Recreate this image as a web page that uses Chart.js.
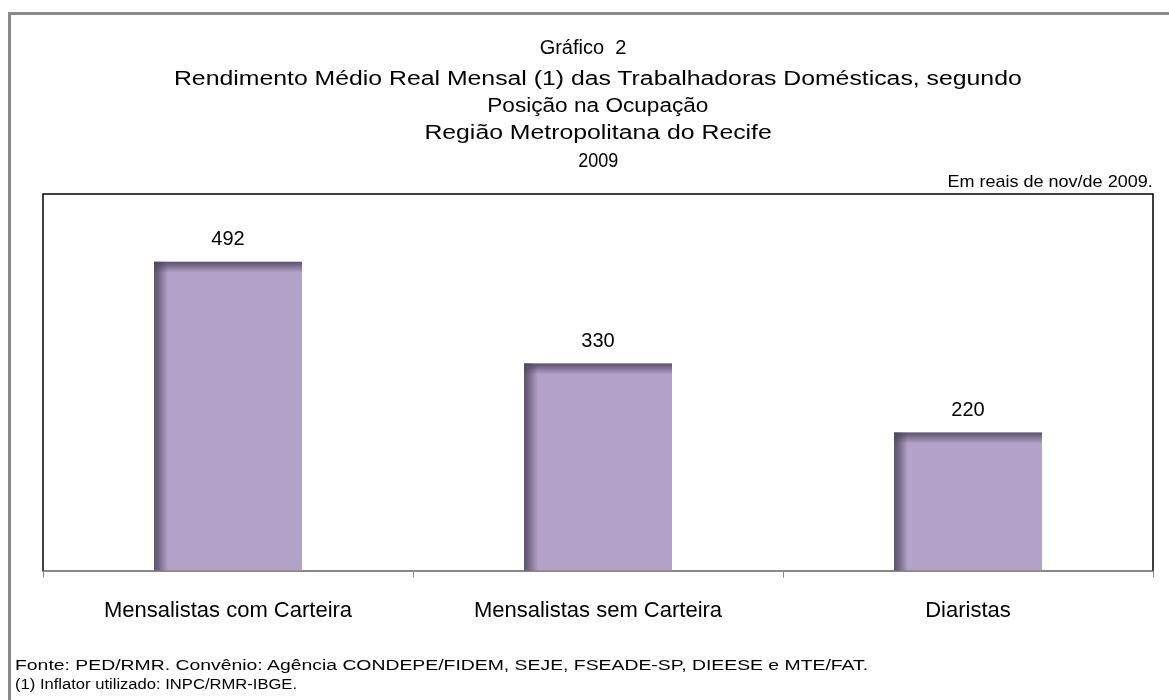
<!DOCTYPE html>
<html>
<head>
<meta charset="utf-8">
<script src="https://cdn.jsdelivr.net/npm/chart.js@4.4.1/dist/chart.umd.min.js"></script>
<style>
  html, body { margin: 0; padding: 0; background: #fff; }
  #wrap { position: relative; width: 1169px; height: 700px; overflow: hidden; font-family: "Liberation Sans", Arial, sans-serif; color: #000; }
  #frame { position: absolute; left: 8px; top: 12px; width: 1200px; height: 800px; border-left: 3px solid #888; border-top: 3px solid #888; }
  canvas { position: absolute; left: 0; top: 0; }
  .t { position: absolute; left: 43px; width: 1110px; text-align: center; font-size: 20px; white-space: nowrap; }
  .t span { display: inline-block; }
  #unit { position: absolute; right: 16px; top: 172px; font-size: 17px; white-space: nowrap; transform: scaleX(1.06); transform-origin: right center; }
  .foot { position: absolute; left: 15px; font-size: 15.5px; white-space: nowrap; transform-origin: left center; }
</style>
</head>
<body>
<div id="wrap">
  <div id="frame"></div>
  <canvas id="chart" width="1169" height="700"></canvas>
  <div class="t" style="top:36px; left:28px"><span>Gráfico&nbsp; 2</span></div>
  <div class="t" style="top:67px"><span style="transform:scaleX(1.24)">Rendimento Médio Real Mensal (1) das Trabalhadoras Domésticas, segundo</span></div>
  <div class="t" style="top:94px"><span style="transform:scaleX(1.13)">Posição na Ocupação</span></div>
  <div class="t" style="top:121px"><span style="transform:scaleX(1.24)">Região Metropolitana do Recife</span></div>
  <div class="t" style="top:149px"><span style="transform:scaleX(0.9)">2009</span></div>
  <div id="unit">Em reais de nov/de 2009.</div>
  <div class="foot" style="top:656px; transform:scaleX(1.25)">Fonte: PED/RMR. Convênio: Agência CONDEPE/FIDEM, SEJE, FSEADE-SP, DIEESE e MTE/FAT.</div>
  <div class="foot" style="top:675px; transform:scaleX(1.07)">(1) Inflator utilizado: INPC/RMR-IBGE.</div>
</div>
<script>
// dados do gráfico
const categorias = ['Mensalistas com Carteira', 'Mensalistas sem Carteira', 'Diaristas'];
const rendimentos = [492, 330, 220];

// sombra nas bordas das barras + rótulos de valor
const barShade = {
    id: 'barShade',
    afterDatasetsDraw(chart) {
        const ctx = chart.ctx;
        const meta = chart.getDatasetMeta(0);
        ctx.save();
        meta.data.forEach((bar, i) => {
            const left = bar.x - bar.width / 2;
            const top = bar.y;
            const h = bar.base - bar.y;

            let g = ctx.createLinearGradient(left, 0, left + 14, 0);
            g.addColorStop(0, 'rgba(74, 66, 90, 0.82)');
            g.addColorStop(0.3, 'rgba(74, 66, 90, 0.65)');
            g.addColorStop(1, 'rgba(74, 66, 90, 0)');
            ctx.fillStyle = g;
            ctx.fillRect(left, top, 14, h);

            g = ctx.createLinearGradient(0, top, 0, top + 11);
            g.addColorStop(0, 'rgba(74, 66, 90, 0.82)');
            g.addColorStop(0.3, 'rgba(74, 66, 90, 0.6)');
            g.addColorStop(1, 'rgba(74, 66, 90, 0)');
            ctx.fillStyle = g;
            ctx.fillRect(left, top, bar.width, 11);

            ctx.fillStyle = '#000';
            ctx.font = '20px "Liberation Sans", Arial, sans-serif';
            ctx.textAlign = 'center';
            ctx.textBaseline = 'middle';
            ctx.fillText(String(rendimentos[i]), bar.x, top - 22);
        });
        ctx.restore();
    },
    afterDraw(chart) {
        // moldura preta da área de plotagem (sem a base)
        const {ctx, chartArea: a} = chart;
        ctx.save();
        ctx.strokeStyle = '#000';
        ctx.lineWidth = 1.5;
        ctx.beginPath();
        ctx.moveTo(a.left, a.bottom);
        ctx.lineTo(a.left, a.top);
        ctx.lineTo(a.right, a.top);
        ctx.lineTo(a.right, a.bottom);
        ctx.stroke();
        ctx.restore();
    }
};

new Chart(document.getElementById('chart'), {
    type: 'bar',
    data: {
        labels: categorias,
        datasets: [{
            data: rendimentos,
            backgroundColor: '#b3a2c8',
            borderWidth: 0,
            barPercentage: 0.4,
            categoryPercentage: 1.0
        }]
    },
    options: {
        responsive: false,
        animation: false,
        layout: {
            padding: { left: 43, right: 16, top: 194, bottom: 56 }
        },
        plugins: {
            legend: { display: false },
            tooltip: { enabled: false }
        },
        scales: {
            x: {
                border: { color: '#888', width: 2 },
                grid: {
                    drawOnChartArea: false,
                    drawTicks: true,
                    tickLength: 7,
                    color: '#888',
                    lineWidth: 1
                },
                ticks: {
                    color: '#000',
                    padding: 20,
                    font: { family: '"Liberation Sans", Arial, sans-serif', size: 22 }
                }
            },
            y: {
                display: false,
                min: 0,
                max: 600
            }
        }
    },
    plugins: [barShade]
});
</script>
</body>
</html>
